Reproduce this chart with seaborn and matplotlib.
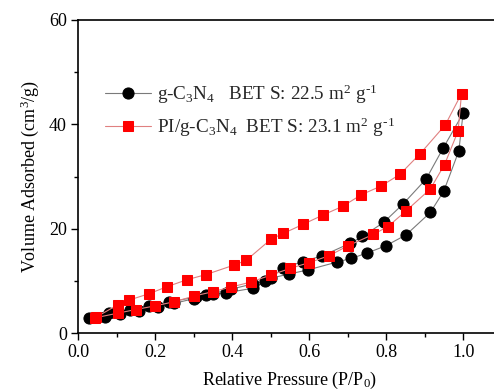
import matplotlib
matplotlib.use("Agg")
import matplotlib.pyplot as plt
import seaborn as sns
import pandas as pd
from matplotlib.ticker import MultipleLocator

# g-C3N4: adsorption branch followed by desorption branch
gcn_p = [0.029, 0.070, 0.109, 0.158, 0.207, 0.250, 0.302, 0.349, 0.384, 0.455,
         0.500, 0.547, 0.597, 0.672, 0.709, 0.749, 0.798, 0.851, 0.914, 0.949,
         0.988, 0.999,
         0.947, 0.903, 0.843, 0.793, 0.738, 0.706, 0.634, 0.583, 0.533, 0.485,
         0.453, 0.397, 0.332, 0.306, 0.235, 0.184, 0.134, 0.081]
gcn_v = [2.8, 3.1, 3.6, 4.3, 4.9, 5.7, 6.6, 7.5, 7.7, 8.6,
         10.5, 11.3, 12.1, 13.6, 14.3, 15.3, 16.7, 18.8, 23.1, 27.2,
         34.9, 42.1,
         35.4, 29.5, 24.7, 21.2, 18.5, 17.2, 14.8, 13.7, 12.4, 9.9,
         9.4, 8.4, 7.3, 6.9, 5.9, 5.2, 4.5, 3.8]

# PI/g-C3N4: adsorption branch followed by desorption branch
pi_p = [0.044, 0.103, 0.150, 0.200, 0.250, 0.302, 0.349, 0.397, 0.450, 0.500,
        0.551, 0.600, 0.651, 0.700, 0.766, 0.804, 0.851, 0.914, 0.951, 0.986,
        0.995,
        0.953, 0.888, 0.835, 0.787, 0.735, 0.687, 0.635, 0.583, 0.533, 0.501,
        0.436, 0.404, 0.332, 0.282, 0.232, 0.183, 0.132, 0.103, 0.046]
pi_v = [2.9, 3.8, 4.5, 5.2, 6.0, 7.1, 7.9, 8.8, 9.8, 11.1,
        12.4, 13.5, 14.8, 16.7, 18.9, 20.4, 23.4, 27.6, 32.3, 38.7,
        45.9,
        39.9, 34.4, 30.4, 28.2, 26.5, 24.3, 22.6, 20.8, 19.1, 18.0,
        13.9, 13.0, 11.2, 10.2, 8.9, 7.5, 6.3, 5.4, 3.0]

labels = [r"g-C$_3$N$_4$   BET S: 22.5 m$^2$ g$^{\text{-}1}$",
          r"PI/g-C$_3$N$_4$  BET S: 23.1 m$^2$ g$^{\text{-}1}$"]

sns.set_theme(style="ticks")
plt.rcParams["font.family"] = ["Liberation Serif", "DejaVu Serif"]
plt.rcParams["mathtext.fontset"] = "custom"
plt.rcParams["mathtext.rm"] = "Liberation Serif"
plt.rcParams["mathtext.it"] = "Liberation Serif"

df1 = pd.DataFrame({"p": gcn_p, "v": gcn_v})
df2 = pd.DataFrame({"p": pi_p, "v": pi_v})

fig = plt.figure(figsize=(4.94, 3.92), dpi=100)
ax = fig.add_axes([78 / 494, 59 / 392, 424 / 494, 313 / 392])

sns.lineplot(data=df1, x="p", y="v", sort=False, estimator=None, ax=ax,
             color="#7a7a7a", lw=0.8, marker="o", markersize=8,
             markerfacecolor="black", markeredgecolor="black", label=labels[0])
sns.lineplot(data=df2, x="p", y="v", sort=False, estimator=None, ax=ax,
             color="#e08080", lw=0.8, marker="s", markersize=6.8,
             markerfacecolor="#ff0000", markeredgecolor="#ff0000", label=labels[1])

ax.set_xlim(0, 1.1)
ax.set_ylim(0, 60)
ax.xaxis.set_major_locator(MultipleLocator(0.2))
ax.xaxis.set_minor_locator(MultipleLocator(0.1))
ax.yaxis.set_major_locator(MultipleLocator(20))
ax.yaxis.set_minor_locator(MultipleLocator(10))
ax.set_xticks([0.0, 0.2, 0.4, 0.6, 0.8, 1.0])
ax.set_xticklabels(["0.0", "0.2", "0.4", "0.6", "0.8", "1.0"])
ax.tick_params(axis="both", which="major", direction="out", length=5, width=1,
               labelsize=13, color="black", labelcolor="black", pad=3)
ax.tick_params(axis="both", which="minor", direction="out", length=3, width=1,
               color="black")
for s in ["left", "bottom", "top"]:
    ax.spines[s].set_color("black")
    ax.spines[s].set_linewidth(1.2)
ax.spines["right"].set_visible(False)

ax.set_xlabel(r"Relative Pressure (P/P$_0$)", fontsize=13, color="black", labelpad=6)
ax.set_ylabel(r"Volume Adsorbed (cm$^3$/g)", fontsize=13, color="black", labelpad=6)

leg = ax.legend(loc="upper left", bbox_to_anchor=(0.045, 0.825), frameon=False,
                fontsize=13.8, handlelength=2.4, handletextpad=0.35,
                labelspacing=0.5, borderaxespad=0)

fig.savefig("out.png", dpi=100)
